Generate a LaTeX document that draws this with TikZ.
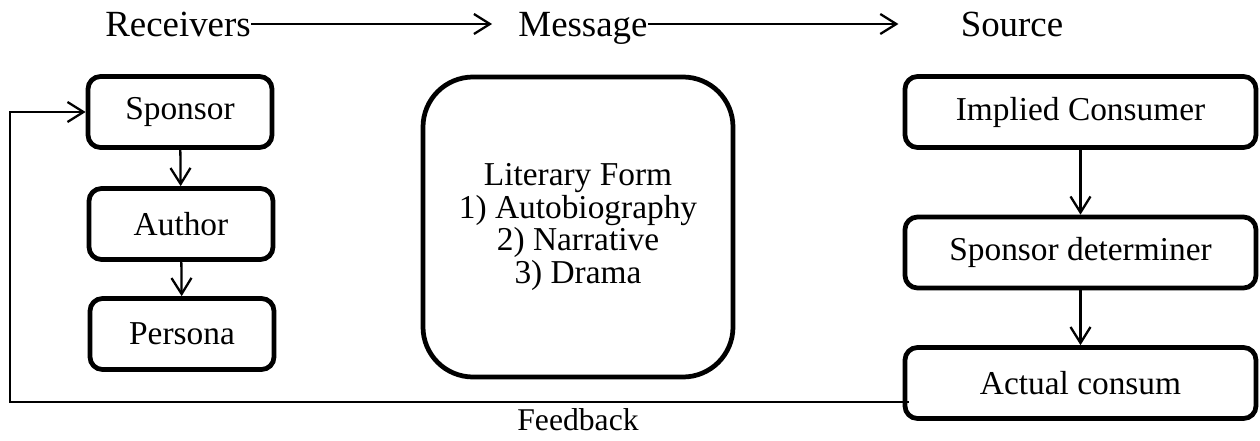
\documentclass[tikz,border=0pt]{standalone}
\usepackage{fontspec}
\setmainfont{Liberation Serif}
\usetikzlibrary{arrows.meta,positioning}

\begin{document}
\begin{tikzpicture}[
    box/.style={rectangle, draw=black, line width=2.7pt, minimum width=3.68cm, minimum height=1.42cm, text centered, rounded corners=0.25cm, font=\fontsize{19}{22}\selectfont},
    wide/.style={box, minimum width=7.02cm},
    title/.style={anchor=base, inner xsep=0pt, text height=0.52cm, text depth=0pt, font=\fontsize{21}{24}\selectfont},
    arrow/.style={->, >={Straight Barb[length=0.32cm,width=0.4cm]}, line width=1.3pt}
]
\useasboundingbox (0,0) rectangle (25.2,8.8);

% Headings
\node[title] (receivers) at (3.56,8.06) {Receivers};
\node[title] (message) at (11.66,8.06) {Message};
\node[title] (source) at (20.24,8.06) {Source};

% Receivers column
\node[box] (sponsor) at (3.6,6.56) {Sponsor};
\node[box] (author) at (3.62,4.32) {Author};
\node[box] (persona) at (3.64,2.12) {Persona};

% Message
\node[box, minimum width=6.2cm, minimum height=6.0cm, rounded corners=1cm, align=center,
      font=\fontsize{19}{18.7}\selectfont] (form) at (11.56,4.26)
      {Literary Form\\1) Autobiography\\2) Narrative\\3) Drama};

% Source column
\node[wide] (implied) at (21.61,6.56) {Implied Consumer};
\node[wide] (determiner) at (21.61,3.75) {Sponsor determiner};
\node[wide] (actual) at (21.61,1.14) {Actual consum};

% Connections
\draw[arrow, shorten >=0.52cm] (receivers.east) -- (message.west);
\draw[arrow, shorten >=1.24cm] (message.east) -- (source.west);
\draw[arrow] (sponsor) -- (author);
\draw[arrow] (author) -- (persona);
\draw[arrow] (implied) -- (determiner);
\draw[arrow] (determiner) -- (actual);

% Feedback loop
\coordinate (fbcorner) at (0.2,0.76);
\draw[arrow] ([xshift=0.12cm,yshift=-0.38cm]actual.west) -- (fbcorner) |- (sponsor.west);
\node[font=\fontsize{18}{20}\selectfont] (feedback) at (11.56,0.4) {Feedback};

\end{tikzpicture}
\end{document}
